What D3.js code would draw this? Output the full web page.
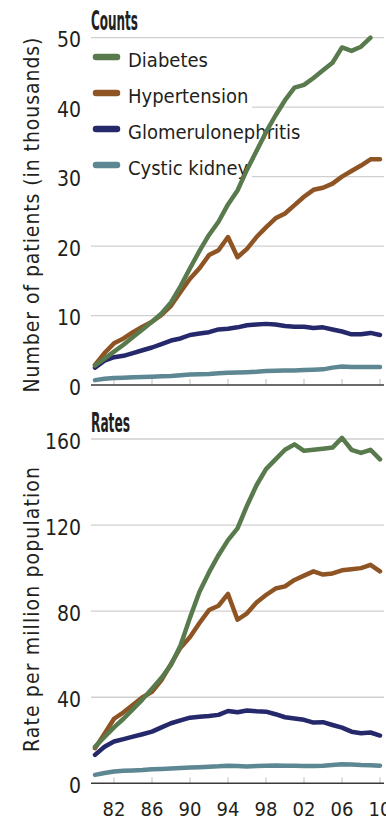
<!DOCTYPE html>
<html>
<head>
<meta charset="utf-8">
<script src="https://cdn.jsdelivr.net/npm/d3@7"></script>
<style>
  html, body { margin: 0; padding: 0; background: #fff; }
  svg { display: block; }
  text { font-family: "Liberation Sans Narrow", "Arial Narrow", "DejaVu Sans Condensed", sans-serif; fill: #231f20; }
</style>
</head>
<body>
<svg id="chart" width="386" height="822"></svg>
<script>
// Incident ESRD patients by primary diagnosis, 1980-2010
const years = [1980, 1981, 1982, 1983, 1984, 1985, 1986, 1987, 1988, 1989,
               1990, 1991, 1992, 1993, 1994, 1995, 1996, 1997, 1998, 1999,
               2000, 2001, 2002, 2003, 2004, 2005, 2006, 2007, 2008, 2009, 2010];

const seriesNames = ["Diabetes", "Hypertension", "Glomerulonephritis", "Cystic kidney"];
const seriesColors = ["#587a4c", "#8f5424", "#25296b", "#5d8793"];

// Counts, in thousands
const countsDiabetes = [2.8, 3.8, 4.8, 5.8, 6.9, 8.0, 9.1, 10.3, 11.9, 14.2,
                        16.8, 19.3, 21.6, 23.5, 26.0, 28.0, 31.0, 33.7, 36.4, 38.8,
                        41.0, 42.8, 43.2, 44.2, 45.3, 46.4, 48.6, 48.1, 48.7, 50.0, null];
const countsHypertension = [2.9, 4.6, 6.0, 6.7, 7.6, 8.4, 9.1, 10.1, 11.4, 13.4,
                            15.3, 16.8, 18.7, 19.4, 21.3, 18.4, 19.6, 21.3, 22.7, 24.0,
                            24.7, 25.9, 27.1, 28.1, 28.4, 29.0, 30.0, 30.8, 31.6, 32.5, 32.5];
const countsGlomerulo = [2.5, 3.5, 4.0, 4.2, 4.6, 5.0, 5.4, 5.9, 6.4, 6.7,
                         7.2, 7.4, 7.6, 8.0, 8.1, 8.3, 8.6, 8.7, 8.8, 8.7,
                         8.5, 8.4, 8.4, 8.2, 8.3, 8.0, 7.7, 7.3, 7.3, 7.5, 7.2];
const countsCystic = [0.7, 0.9, 1.0, 1.05, 1.1, 1.15, 1.2, 1.25, 1.3, 1.4,
                      1.5, 1.55, 1.6, 1.7, 1.75, 1.8, 1.85, 1.9, 2.0, 2.05,
                      2.1, 2.1, 2.15, 2.2, 2.25, 2.5, 2.65, 2.6, 2.6, 2.6, 2.6];

// Rates per million population
const ratesDiabetes = [16.9, 21.5, 26.0, 30.0, 34.5, 39.0, 44.0, 49.0, 55.0, 64.0,
                       77.0, 89.0, 98.0, 106.0, 113.0, 118.5, 129.0, 138.5, 146.0, 150.5,
                       155.0, 157.5, 154.5, 155.0, 155.5, 156.0, 160.5, 155.0, 153.5, 155.0, 150.5];
const ratesHypertension = [16.3, 23.0, 30.0, 33.0, 36.5, 40.0, 42.5, 48.0, 55.5, 63.0,
                           68.0, 74.5, 80.5, 82.5, 88.0, 76.0, 79.0, 84.0, 87.5, 90.5,
                           91.5, 94.5, 96.5, 98.5, 97.0, 97.5, 99.0, 99.5, 100.0, 101.5, 98.5];
const ratesGlomerulo = [13.2, 17.0, 19.4, 20.5, 21.7, 22.8, 24.0, 26.0, 27.9, 29.2,
                        30.5, 30.9, 31.3, 31.8, 33.6, 33.0, 33.8, 33.5, 33.3, 32.1,
                        30.7, 30.1, 29.5, 28.2, 28.4, 27.1, 25.9, 24.0, 23.3, 23.6, 22.2];
const ratesCystic = [3.9, 4.8, 5.5, 5.8, 6.0, 6.2, 6.5, 6.7, 6.9, 7.1,
                     7.3, 7.5, 7.7, 7.9, 8.2, 8.0, 7.8, 8.0, 8.2, 8.3,
                     8.2, 8.1, 8.0, 8.0, 8.2, 8.5, 8.8, 8.7, 8.5, 8.4, 8.2];

const countTicks = [0, 10, 20, 30, 40, 50];
const rateTicks = [0, 40, 80, 120, 160];
const xTickYears = [1982, 1986, 1990, 1994, 1998, 2002, 2006, 2010];
const xTickLabels = ["82", "86", "90", "94", "98", "02", "06", "10"];

const svg = d3.select("#chart");

const x = d3.scaleLinear().domain([1980, 2010]).range([95, 380]);
const gridLeft = 91, gridRight = 384;

const panels = [
  { title: "Counts", titleY: 30, yTitle: "Number of patients (in thousands)",
    yTitleLen: 355, yTitleMid: 215, domain: [0, 50], range: [385, 37.7],
    ticks: countTicks, series: [countsDiabetes, countsHypertension, countsGlomerulo, countsCystic],
    legend: true, xLabels: false },
  { title: "Rates", titleY: 432, yTitle: "Rate per million population",
    yTitleLen: 285, yTitleMid: 609.5, domain: [0, 160], range: [783.3, 439],
    ticks: rateTicks, series: [ratesDiabetes, ratesHypertension, ratesGlomerulo, ratesCystic],
    legend: false, xLabels: true }
];

panels.forEach(p => {
  const y = d3.scaleLinear().domain(p.domain).range(p.range);
  const g = svg.append("g");

  // horizontal gridlines (zero is the axis line)
  g.append("g").selectAll("line")
    .data(p.ticks.filter(t => t > 0))
    .join("line")
    .attr("x1", gridLeft).attr("x2", gridRight)
    .attr("y1", d => y(d)).attr("y2", d => y(d))
    .attr("stroke", "#cfcfcf").attr("stroke-width", 1.3);

  // y tick labels
  g.append("g").selectAll("text")
    .data(p.ticks)
    .join("text")
    .attr("x", 81).attr("y", d => y(d) + 9.5)
    .attr("text-anchor", "end")
    .attr("font-size", 21)
    .text(d => d);

  // x tick marks rising from the baseline
  g.append("g").selectAll("line")
    .data(xTickYears)
    .join("line")
    .attr("x1", d => x(d)).attr("x2", d => x(d))
    .attr("y1", y(0)).attr("y2", y(0) - 6)
    .attr("stroke", "#bdbdbd").attr("stroke-width", 1);

  // baseline
  g.append("line")
    .attr("x1", gridLeft).attr("x2", gridRight)
    .attr("y1", y(0)).attr("y2", y(0))
    .attr("stroke", "#3a3a3a").attr("stroke-width", 1.6);

  // panel title
  g.append("text")
    .attr("x", 91).attr("y", p.titleY)
    .attr("font-size", 26).attr("font-weight", "bold")
    .attr("textLength", p.title === "Counts" ? 47 : 39)
    .attr("lengthAdjust", "spacingAndGlyphs")
    .text(p.title);

  // y-axis title
  g.append("text")
    .attr("transform", `translate(39,${p.yTitleMid}) rotate(-90)`)
    .attr("text-anchor", "middle")
    .attr("font-size", 21)
    .attr("textLength", p.yTitleLen)
    .attr("lengthAdjust", "spacing")
    .text(p.yTitle);

  if (p.legend) {
    g.append("rect")
      .attr("x", gridLeft).attr("y", 44)
      .attr("width", 161).attr("height", 136)
      .attr("fill", "#fff");
    const items = g.append("g").selectAll("g")
      .data(seriesNames)
      .join("g")
      .attr("transform", (d, i) => `translate(0,${57 + i * 36})`);
    items.append("line")
      .attr("x1", 96).attr("x2", 117)
      .attr("stroke", (d, i) => seriesColors[i])
      .attr("stroke-width", 6.5)
      .attr("stroke-linecap", "round");
    items.append("text")
      .attr("x", 128).attr("y", 10)
      .attr("font-size", 20)
      .text(d => d);
  }

  if (p.xLabels) {
    g.append("g").selectAll("text")
      .data(xTickYears)
      .join("text")
      .attr("x", d => x(d)).attr("y", 816)
      .attr("text-anchor", "middle")
      .attr("font-size", 20)
      .text((d, i) => xTickLabels[i]);
  }

  // data lines, drawn back to front so diabetes sits on top
  const line = d3.line()
    .defined(d => d.v != null)
    .x(d => x(d.year))
    .y(d => y(d.v));

  const seriesData = p.series.map((vals, i) => ({
    name: seriesNames[i], color: seriesColors[i],
    points: years.map((yr, k) => ({ year: yr, v: vals[k] }))
  }));

  g.append("g").selectAll("path")
    .data(seriesData.slice().reverse())
    .join("path")
    .attr("d", d => line(d.points))
    .attr("fill", "none")
    .attr("stroke", d => d.color)
    .attr("stroke-width", 4.5)
    .attr("stroke-linejoin", "round")
    .attr("stroke-linecap", "round");
});
</script>
</body>
</html>
